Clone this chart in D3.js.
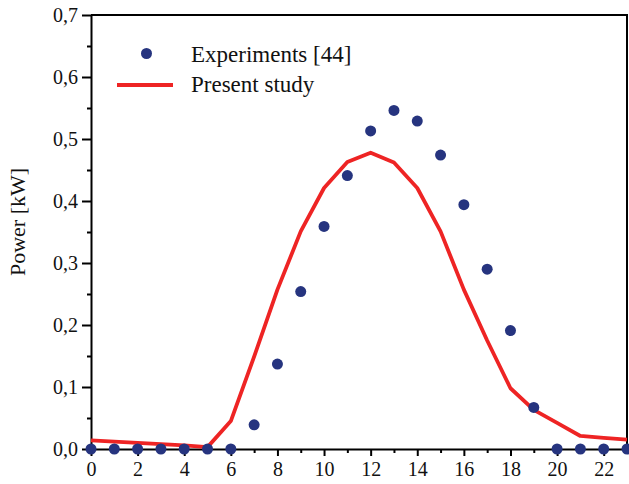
<!DOCTYPE html>
<html>
<head>
<meta charset="utf-8">
<script src="https://cdn.jsdelivr.net/npm/d3@7"></script>
<style>
  html, body { margin: 0; padding: 0; background: #fff; }
  svg { display: block; }
  svg text { font-family: "Liberation Serif", "Times New Roman", serif !important; fill: #111; }
</style>
</head>
<body>
<svg id="chart" width="629" height="484"></svg>
<script>
// Hour of day
const hours = d3.range(0, 24);
// Measured power, kW
const experiments = [0, 0, 0, 0, 0, 0, 0, 0.039, 0.137, 0.254, 0.359, 0.441, 0.513, 0.546, 0.529, 0.474, 0.394, 0.290, 0.191, 0.067, 0, 0, 0, 0];
// Simulated power, kW
const presentStudy = [0.014, 0.012, 0.010, 0.008, 0.006, 0.003, 0.045, 0.149, 0.257, 0.351, 0.421, 0.463, 0.478, 0.462, 0.421, 0.351, 0.257, 0.175, 0.098, 0.063, 0.042, 0.021, 0.018, 0.015];
const xTicks = d3.range(0, 23, 2);
const yTicks = d3.range(0, 0.71, 0.1);
const legendLabels = ["Experiments [44]", "Present study"];

const svg = d3.select("#chart");
const x = d3.scaleLinear().domain([0, 23]).range([91, 627]);
const y = d3.scaleLinear().domain([0, 0.7]).range([449, 15]);

const navy = "#26347f";
const red = "#ee2424";
const serif = "'Liberation Serif', 'Times New Roman', serif";
const fmt = v => d3.format(".1f")(v).replace(".", ",");

// Frame (top and right)
svg.append("path")
  .attr("d", `M${x(0)},${y(0.7)}H${x(23)}V${y(0)}`)
  .attr("fill", "none").attr("stroke", "#000").attr("stroke-width", 2);

// Minor ticks
svg.append("g").attr("transform", `translate(${x(0)},0)`)
  .call(d3.axisLeft(y).tickValues(d3.range(0.05, 0.7, 0.1)).tickSize(4).tickFormat(""))
  .call(g => g.select(".domain").remove())
  .selectAll("line").attr("stroke-width", 2);
svg.append("g").attr("transform", `translate(0,${y(0)})`)
  .call(d3.axisBottom(x).tickValues(d3.range(1, 24, 2)).tickSize(4).tickFormat(""))
  .call(g => g.select(".domain").remove())
  .selectAll("line").attr("stroke-width", 2);

// Left axis
const yAxis = svg.append("g").attr("transform", `translate(${x(0)},0)`)
  .call(d3.axisLeft(y).tickValues(yTicks).tickSize(9).tickSizeOuter(0).tickPadding(4).tickFormat(fmt))
  .attr("font-family", serif).attr("font-size", 20);
yAxis.select(".domain").attr("stroke-width", 2);
yAxis.selectAll(".tick line").attr("stroke-width", 2);
yAxis.selectAll("text").attr("fill", "#111");

// Bottom axis
const xAxis = svg.append("g").attr("transform", `translate(0,${y(0)})`)
  .call(d3.axisBottom(x).tickValues(xTicks).tickSize(7).tickSizeOuter(0).tickPadding(6).tickFormat(d3.format("d")))
  .attr("font-family", serif).attr("font-size", 20);
xAxis.select(".domain").attr("stroke-width", 2);
xAxis.selectAll(".tick line").attr("stroke-width", 2);
xAxis.selectAll("text").attr("fill", "#111");

// Axis title
svg.append("text")
  .attr("transform", "translate(25,222) rotate(-90)")
  .attr("text-anchor", "middle")
  .attr("font-family", serif)
  .attr("font-size", 22)
  .text("Power [kW]");

// Simulation line
const line = d3.line().x((d, i) => x(hours[i])).y(d => y(d));
svg.append("path")
  .datum(presentStudy)
  .attr("d", line)
  .attr("fill", "none")
  .attr("stroke", red)
  .attr("stroke-width", 3.8)
  .attr("stroke-linejoin", "round");

// Experimental points
svg.append("g").selectAll("circle")
  .data(experiments)
  .join("circle")
  .attr("cx", (d, i) => x(hours[i]))
  .attr("cy", d => y(d))
  .attr("r", 5.5)
  .attr("fill", navy);

// Legend
const legend = svg.append("g");
legend.append("circle").attr("cx", 146.5).attr("cy", 53.5).attr("r", 5.5).attr("fill", navy);
legend.append("line").attr("x1", 117).attr("x2", 173).attr("y1", 85).attr("y2", 85)
  .attr("stroke", red).attr("stroke-width", 3.8);
legend.selectAll("text.lbl")
  .data(legendLabels)
  .join("text")
  .attr("class", "lbl")
  .attr("x", 191)
  .attr("y", (d, i) => 62 + i * 30)
  .attr("font-family", serif)
  .attr("font-size", 23)
  .text(d => d);
</script>
</body>
</html>
